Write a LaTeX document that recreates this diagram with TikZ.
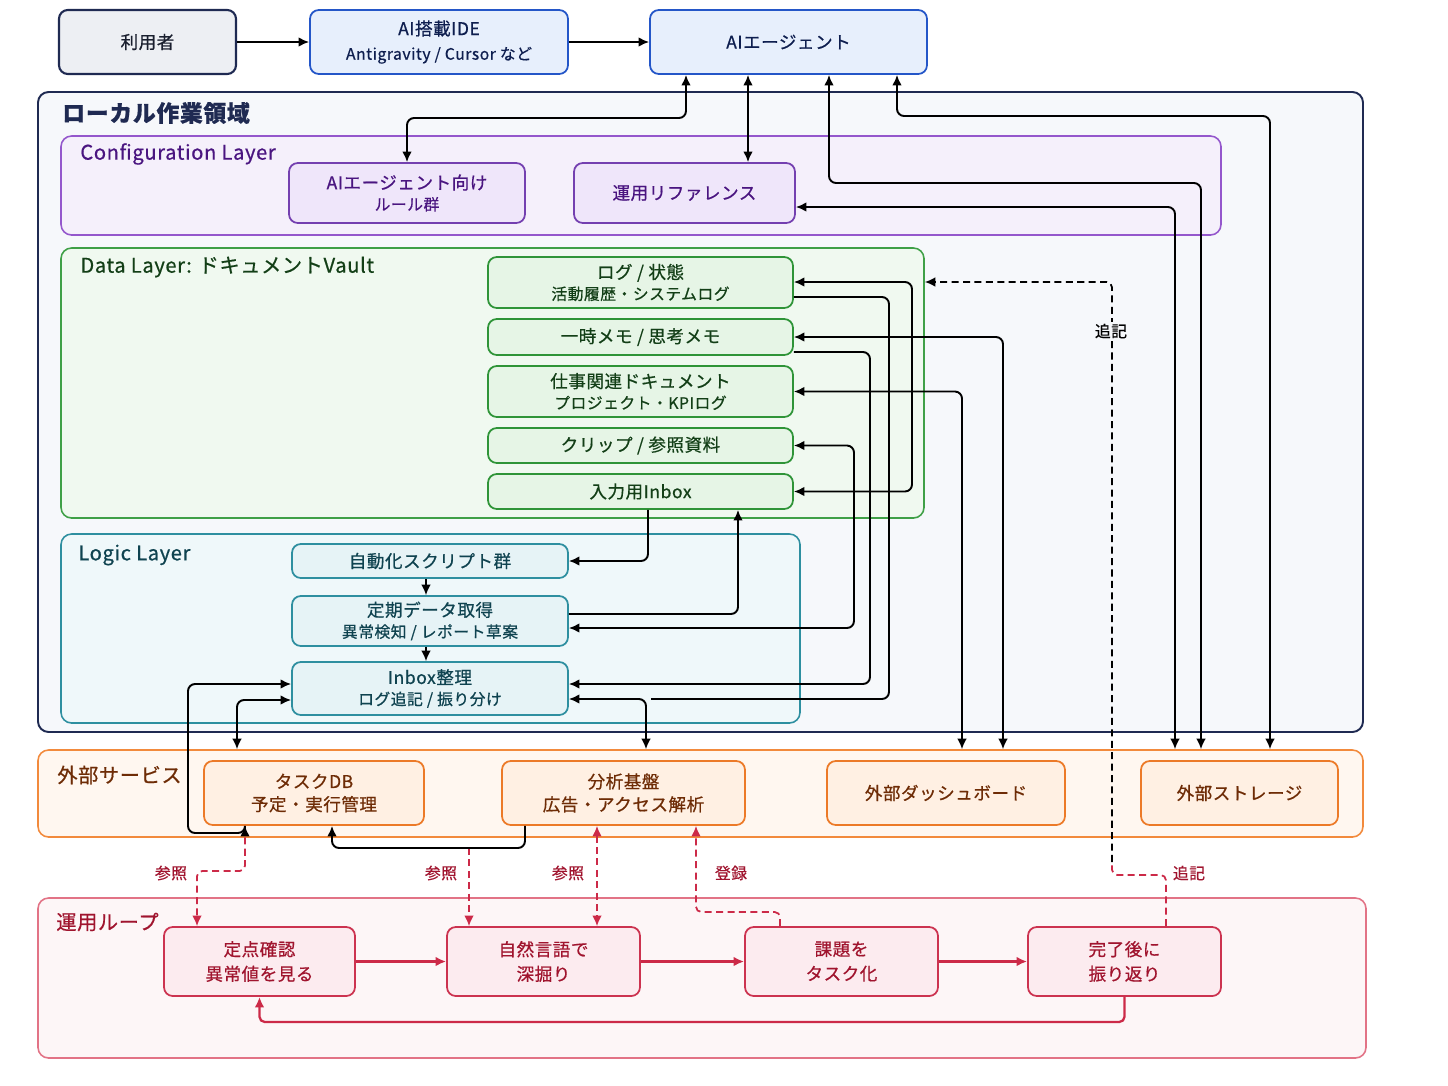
\documentclass[tikz,border=0pt]{standalone}
\usepackage{fontspec}
\setmainfont{Noto Sans CJK JP}[FakeBold=0.6,LetterSpace=3]
\usetikzlibrary{arrows.meta}
\newcommand{\pxu}{0.02cm}
\newcommand{\subline}{\fontsize{9}{12}\selectfont}
\definecolor{navyline}{HTML}{1F2A52}
\definecolor{userfill}{HTML}{EDEFF3}
\definecolor{usertext}{HTML}{1A1F2E}
\definecolor{ideline}{HTML}{2456C8}
\definecolor{idefill}{HTML}{E7EFFC}
\definecolor{idetext}{HTML}{0E1E4F}
\definecolor{localfill}{HTML}{F6F8FB}
\definecolor{purline}{HTML}{9457CC}
\definecolor{purbox}{HTML}{7440B0}
\definecolor{purfill}{HTML}{F5F0FB}
\definecolor{purboxfill}{HTML}{EFE6FA}
\definecolor{purtext}{HTML}{4A1580}
\definecolor{grnline}{HTML}{3FA047}
\definecolor{grnbox}{HTML}{2F9438}
\definecolor{grnfill}{HTML}{F0F9F0}
\definecolor{grnboxfill}{HTML}{E6F5E6}
\definecolor{grntext}{HTML}{133F17}
\definecolor{tealline}{HTML}{2E8FA0}
\definecolor{tealfill}{HTML}{EFF8FA}
\definecolor{tealboxfill}{HTML}{E6F3F6}
\definecolor{tealtext}{HTML}{0F4350}
\definecolor{orgline}{HTML}{F28A3C}
\definecolor{orgbox}{HTML}{EC7A28}
\definecolor{orgfill}{HTML}{FFF7F0}
\definecolor{orgboxfill}{HTML}{FFF0E3}
\definecolor{orgtext}{HTML}{6E2C06}
\definecolor{crmline}{HTML}{E27386}
\definecolor{crmbox}{HTML}{CC3350}
\definecolor{crmfill}{HTML}{FDF6F7}
\definecolor{crmboxfill}{HTML}{FCEBEF}
\definecolor{crmtext}{HTML}{A0142E}
\definecolor{crmarrow}{HTML}{CC2A48}

\begin{document}
\begin{tikzpicture}[x=0.02cm,y=-0.02cm,>={Latex[length=6pt,width=5.5pt]},
  sz/.style 2 args={minimum width=#1*\pxu,minimum height=#2*\pxu},
  box/.style={draw,rounded corners=5pt,line width=1pt,align=center,inner sep=1pt,
    font=\fontsize{10}{12}\selectfont},
  layer/.style={draw,rounded corners=6pt,line width=0.9pt,inner sep=0pt},
  header/.style={anchor=west,inner sep=0pt,font=\fontsize{11.5}{13}\selectfont},
  userbox/.style={box,draw=navyline,fill=userfill,text=usertext,line width=1.2pt},
  topbox/.style={box,draw=ideline,fill=idefill,text=idetext},
  confbox/.style={box,draw=purbox,fill=purboxfill,text=purtext},
  databox/.style={box,draw=grnbox,fill=grnboxfill,text=grntext},
  logicbox/.style={box,draw=tealline,fill=tealboxfill,text=tealtext},
  extbox/.style={box,draw=orgbox,fill=orgboxfill,text=orgtext},
  loopbox/.style={box,draw=crmbox,fill=crmboxfill,text=crmtext},
  conn/.style={line width=1.1pt,rounded corners=4pt,black},
  toext/.style={shorten >=6.2pt},
  refline/.style={crmarrow,line width=1pt,rounded corners=3pt,dash pattern=on 4pt off 2.5pt},
  noteline/.style={black,line width=1pt,rounded corners=3pt,dash pattern=on 4pt off 2.5pt},
  loopline/.style={crmarrow,line width=1.3pt,rounded corners=3pt},
  tag/.style={inner sep=1pt,font=\fontsize{9}{11}\selectfont}]
\useasboundingbox (0,0) rectangle (1448,1086);

% layers
\node[layer,draw=navyline,fill=localfill,line width=1.1pt,sz={1325}{640}] (local) at (700.5,412) {};
\node[layer,draw=purline,fill=purfill,sz={1160}{99}] (conf) at (641,185.5) {};
\node[layer,draw=grnline,fill=grnfill,sz={863}{270}] (data) at (492.5,383) {};
\node[layer,draw=tealline,fill=tealfill,sz={739}{189}] (logic) at (430.5,628.5) {};
\node[layer,draw=orgline,fill=orgfill,sz={1325}{87}] (ext) at (700.5,793.5) {};
\node[layer,draw=crmline,fill=crmfill,sz={1328}{160}] (loop) at (702,978) {};

\node[header,font=\bfseries\fontsize{13}{15}\selectfont,text=navyline] (localhd) at (62,113) {ローカル作業領域};
\node[header,text=purtext] (confhd) at (80,154) {Configuration Layer};
\node[header,text=grntext] (datahd) at (80,267) {Data Layer: ドキュメントVault};
\node[header,text=tealtext] (logichd) at (78,555) {Logic Layer};
\node[header,text=orgtext] (exthd) at (57,775) {外部サービス};
\node[header,text=crmtext] (loophd) at (56,922) {運用ループ};

% top row
\node[userbox,sz={177}{64}] (user) at (147.5,42) {利用者};
\node[topbox,sz={258}{64}] (ide) at (439,42) {AI搭載IDE\\[2pt]\subline Antigravity / Cursor など};
\node[topbox,sz={277}{64}] (agent) at (788.5,42) {AIエージェント};

% configuration
\node[confbox,sz={236}{60}] (rules) at (407,193) {AIエージェント向け\\\subline ルール群};
\node[confbox,sz={221}{60}] (opref) at (684.5,193) {運用リファレンス};

% data
\node[databox,sz={305}{51}] (log) at (640.5,282.5) {ログ / 状態\\\subline 活動履歴・システムログ};
\node[databox,sz={305}{36}] (memo) at (640.5,337) {一時メモ / 思考メモ};
\node[databox,sz={305}{51}] (work) at (640.5,391.5) {仕事関連ドキュメント\\\subline プロジェクト・KPIログ};
\node[databox,sz={305}{35}] (clip) at (640.5,445.5) {クリップ / 参照資料};
\node[databox,sz={305}{35}] (inbox) at (640.5,491.5) {入力用Inbox};

% logic
\node[logicbox,sz={276}{34}] (scripts) at (430,561) {自動化スクリプト群};
\node[logicbox,sz={276}{50}] (fetch) at (430,621) {定期データ取得\\\subline 異常検知 / レポート草案};
\node[logicbox,sz={276}{53}] (sort) at (430,688.5) {Inbox整理\\\subline ログ追記 / 振り分け};

% external services
\node[extbox,sz={220}{64}] (taskdb) at (314,793) {タスクDB\\[1pt]予定・実行管理};
\node[extbox,sz={243}{64}] (analytics) at (623.5,793) {分析基盤\\[1pt]広告・アクセス解析};
\node[extbox,sz={238}{64}] (dash) at (946,793) {外部ダッシュボード};
\node[extbox,sz={197}{64}] (storage) at (1239.5,793) {外部ストレージ};

% loop
\node[loopbox,sz={191}{69}] (check) at (259.5,961.5) {定点確認\\[2pt]異常値を見る};
\node[loopbox,sz={193}{69}] (dig) at (543.5,961.5) {自然言語で\\[2pt]深掘り};
\node[loopbox,sz={193}{69}] (task) at (841.5,961.5) {課題を\\[2pt]タスク化};
\node[loopbox,sz={193}{69}] (review) at (1124.5,961.5) {完了後に\\[2pt]振り返り};

% dashed references
\coordinate (tapA) at (469,848);
\coordinate (noteturn) at (1112,862);
\draw[refline,->] (taskdb.south -| 245,0) -- (245,871) -| (check.north -| 197,0);
\draw[refline,->] (tapA) -- (dig.north -| 469,0);
\draw[refline,<->] (analytics.south -| 597,0) -- (dig.north -| 597,0);
\draw[refline,->] (task.north -| 780,0) -- (780,912) -| (analytics.south -| 696,0);
\draw[refline] (review.north -| 1166,0) -- (1166,875) -| (noteturn);
\draw[noteline,->] (noteturn) |- (data.east |- 0,282);
\node[tag,text=crmtext] (ref1) at (171,873) {参照};
\node[tag,text=crmtext] (ref2) at (441,873) {参照};
\node[tag,text=crmtext] (ref3) at (568,873) {参照};
\node[tag,text=crmtext] (reg) at (731,873) {登録};
\node[tag,text=crmtext] (note2) at (1189,873) {追記};
\node[tag,fill=localfill] (note1) at (1111,331) {追記};

% top flow
\draw[conn,->] (user) -- (ide);
\draw[conn,->] (ide) -- (agent);

% agent links
\draw[conn,<->] (agent.south -| 686,0) -- (686,118) -| (rules.north);
\draw[conn,<->] (agent.south -| 748,0) -- (opref.north -| 748,0);
\draw[conn,<->,toext] (agent.south -| 829,0) |- (1201,183) -- (storage.north -| 1201,0);
\draw[conn,<->,toext] (agent.south -| 897,0) |- (1270,116) -- (storage.north -| 1270,0);
\draw[conn,<->,toext] (opref.east |- 0,207) -| (storage.north -| 1175,0);

% vault links
\draw[conn,<->] (log.east |- 0,282) -- (912,282) |- (inbox.east);
\draw[conn] (log.east |- 0,297) -| (889,699) -- (651,699);
\draw[conn,<->,toext] (memo.east) -| (dash.north -| 1003,0);
\draw[conn,->] (memo.east |- 0,352) -| (870,684) -- (sort.east |- 0,684);
\draw[conn,<->,toext] (work.east) -| (dash.north -| 962,0);
\draw[conn,<->] (clip.east) -| (854,628) -- (fetch.east |- 0,628);
\draw[conn,->] (fetch.east |- 0,614) -| (inbox.south -| 738,0);
\draw[conn,->] (inbox.south -| 648,0) |- (scripts.east);
\draw[conn,->,line width=0.9pt] (scripts.south -| 426,0) -- (fetch.north -| 426,0);
\draw[conn,->,line width=0.9pt] (fetch.south -| 426,0) -- (sort.north -| 426,0);

% service links
\draw[conn,<->] (sort.west |- 0,684) -| (188,833) -| (taskdb.south -| 245,0);
\draw[conn,<->,toext] (sort.west |- 0,700) -| (taskdb.north -| 237,0);
\draw[conn,<->,toext] (sort.east |- 0,699) -| (analytics.north -| 646,0);
\draw[conn,->] (analytics.south -| 525,0) -- (525,848) -| (taskdb.south -| 332,0);

% loop flow
\draw[loopline,->] (check) -- (dig);
\draw[loopline,->] (dig) -- (task);
\draw[loopline,->] (task) -- (review);
\draw[loopline,->] (review.south) -- (1124.5,1022) -| (check.south);
\end{tikzpicture}
\end{document}
